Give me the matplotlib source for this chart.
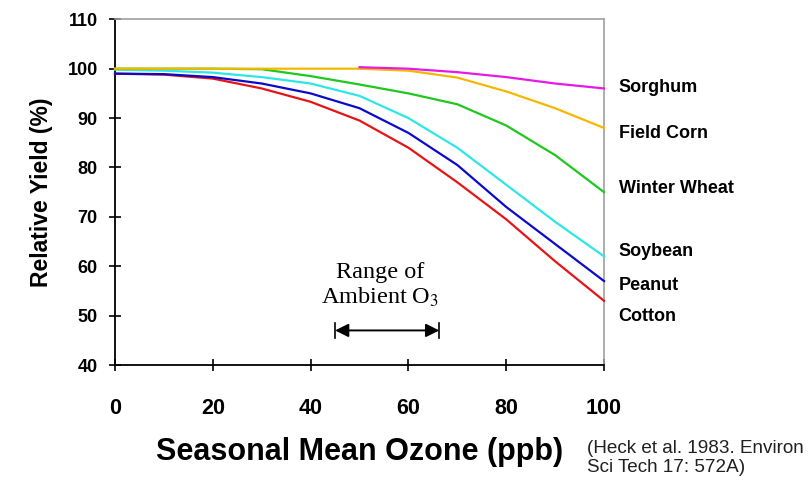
"""Crop yield response to seasonal mean ozone (Heck et al. 1983)."""
import matplotlib
matplotlib.use('Agg')
import matplotlib.pyplot as plt

# ── Data ─────────────────────────────────────────────────────────────────────
ozone = [0, 10, 20, 30, 40, 50, 60, 70, 80, 90, 100]

sorghum_x = [50, 60, 70, 80, 90, 100]
sorghum   = [100.3, 100.0, 99.3, 98.3, 97.0, 96.0]
corn      = [100, 100, 100, 100, 100, 100, 99.6, 98.2, 95.4, 92.0, 88.0]
wheat     = [100, 100, 100, 99.9, 98.5, 96.8, 95.0, 92.8, 88.5, 82.5, 75.0]
soybean   = [99.8, 99.6, 99.2, 98.3, 97.0, 94.5, 90.0, 84.0, 76.5, 69.0, 62.0]
peanut    = [99.0, 98.9, 98.3, 97.0, 95.0, 92.0, 87.0, 80.5, 72.0, 64.5, 57.0]
cotton    = [99.0, 98.8, 98.0, 96.0, 93.3, 89.5, 84.0, 77.0, 69.5, 61.0, 53.0]

crops      = ['Sorghum', 'Field Corn', 'Winter Wheat', 'Soybean', 'Peanut', 'Cotton']
label_y    = [96.2, 86.9, 75.7, 63.0, 56.2, 49.8]
colors     = ['#e619e6', '#f5b800', '#1ec81e', '#2ee6e6', '#0a0ac8', '#e61414']

ambient_range = (45, 66.3)

# ── Figure ───────────────────────────────────────────────────────────────────
fig = plt.figure(figsize=(8.11, 4.83), dpi=100)
ax = fig.add_axes([0.1418, 0.2443, 0.603, 0.7157])

series = [(sorghum_x, sorghum), (ozone, corn), (ozone, wheat),
          (ozone, soybean), (ozone, peanut), (ozone, cotton)]
# draw bottom curves first so the upper ones sit on top
for (xs, ys), c in reversed(list(zip(series, colors))):
    ax.plot(xs, ys, color=c, lw=1.6, zorder=3, clip_on=False)

ax.set_xlim(0, 100)
ax.set_ylim(40, 110)
ax.set_xticks(range(0, 101, 20))
ax.set_yticks(range(40, 111, 10))

BOLD = ['Liberation Sans', 'DejaVu Sans']

ax.tick_params(axis='both', direction='inout', length=9, width=1.2, color='black')
ax.tick_params(axis='x', pad=19.5)
ax.tick_params(axis='y', pad=8)
for lab in ax.get_yticklabels():
    lab.set_fontfamily(BOLD); lab.set_fontweight('bold'); lab.set_fontsize(13)
for lab in ax.get_xticklabels():
    lab.set_fontfamily(BOLD); lab.set_fontweight('bold'); lab.set_fontsize(15.5)

for s in ('left', 'bottom'):
    ax.spines[s].set_color('black'); ax.spines[s].set_linewidth(1.3)
for s in ('top', 'right'):
    ax.spines[s].set_color('#a0a0a0'); ax.spines[s].set_linewidth(1.2)

ax.set_ylabel('Relative Yield (%)', fontsize=16.5, fontweight='bold',
              fontfamily=BOLD, labelpad=10)
ax.set_xlabel('Seasonal Mean Ozone (ppb)', fontsize=22, fontweight='bold',
              fontfamily=BOLD, labelpad=12.5)

# crop labels on the right
for name, y in zip(crops, label_y):
    ax.text(103, y, name, fontsize=13, fontweight='bold', fontfamily=BOLD,
            ha='left', va='center', clip_on=False)

# ambient ozone range annotation
ax.text(54.2, 56.1, 'Range of\nAmbient O$_3$', fontsize=17.5,
        fontfamily='Liberation Serif', ha='center', va='center',
        linespacing=1.15, math_fontfamily='stix')
x0, x1 = ambient_range
ax.annotate('', xy=(x1, 47), xytext=(x0, 47),
            arrowprops=dict(arrowstyle='<|-|>', color='black', lw=1.4,
                            mutation_scale=20, shrinkA=0, shrinkB=0))
for xv in ambient_range:
    ax.plot([xv, xv], [45.4, 48.6], color='black', lw=1.2)

# citation
fig.text(0.724, 0.052, '(Heck et al. 1983. Environ\nSci Tech 17: 572A)',
         fontsize=13.6, fontfamily=BOLD, ha='left', va='center', linespacing=1.12,
         color='#202020')

fig.savefig('out.png', dpi=100, facecolor='white')
